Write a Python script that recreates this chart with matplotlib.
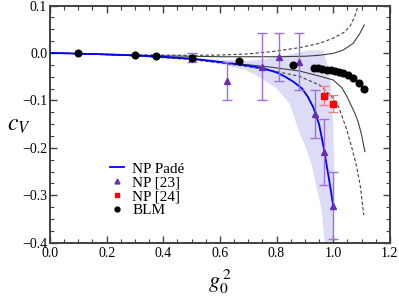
import matplotlib
matplotlib.use("Agg")
import matplotlib.pyplot as plt
from matplotlib.ticker import MultipleLocator
from matplotlib.lines import Line2D
import numpy as np

plt.rcParams["font.family"] = ["Liberation Serif", "DejaVu Serif"]
plt.rcParams["mathtext.fontset"] = "stix"

# NP Pade curve
pade_x = [0.0, 0.1, 0.2, 0.3, 0.4, 0.5, 0.6, 0.7, 0.75, 0.8, 0.83, 0.86, 0.89, 0.91,
          0.93, 0.95, 0.965, 0.975, 0.985, 0.993, 1.0]
pade_y = [0.0, -0.0015, -0.003, -0.005, -0.008, -0.012, -0.019, -0.027, -0.032, -0.041,
          -0.05, -0.061, -0.075, -0.092, -0.115, -0.15, -0.195, -0.23, -0.265, -0.295, -0.322]

# uncertainty band (outline)
band_x = [0.5, 0.6, 0.7, 0.76, 0.82, 0.87, 0.92, 0.965, 0.98, 0.992, 1.0, 1.004, 1.003, 1.0,
          0.97, 0.959, 0.94, 0.924, 0.9, 0.882, 0.865, 0.847, 0.8, 0.75, 0.7, 0.6, 0.5]
band_y = [-0.01, -0.014, -0.017, -0.013, -0.006, 0.0, 0.006, 0.005, -0.025, -0.07, -0.15, -0.25, -0.35, -0.4,
          -0.4, -0.331, -0.28, -0.235, -0.195, -0.17, -0.14, -0.108, -0.075, -0.055, -0.038, -0.023, -0.013]

# NP [23]
np23_x = [0.5, 0.625, 0.75, 0.81, 0.88, 0.937, 0.966, 0.998]
np23_y = [-0.01, -0.06, -0.029, -0.009, -0.019, -0.129, -0.209, -0.322]
np23_err = [0.009, 0.04, 0.07, 0.05, 0.06, 0.05, 0.07, 0.07]

# NP [24]
np24_x = [0.967, 0.999]
np24_y = [-0.09, -0.107]
np24_err = [0.02, 0.018]

# BLM
blm_x = [0.1, 0.3, 0.374, 0.5, 0.666, 0.857, 0.934, 0.948, 0.962, 0.977, 0.991, 1.005,
         1.019, 1.034, 1.052, 1.07, 1.091, 1.109]
blm_y = [-0.001, -0.005, -0.007, -0.01, -0.016, -0.025, -0.031, -0.032, -0.033, -0.035,
         -0.036, -0.0375, -0.04, -0.042, -0.046, -0.052, -0.063, -0.0755]

# black reference curves
up_solid_x = [0.0, 0.1, 0.3, 0.5, 0.6, 0.8, 0.9, 0.95, 1.0, 1.035, 1.07, 1.094, 1.11]
up_solid_y = [0.0, -0.0015, -0.005, -0.007, -0.008, -0.008, -0.007, -0.005, -0.001, 0.006, 0.02, 0.041, 0.059]
up_dash_x = [0.0, 0.1, 0.3, 0.5, 0.6, 0.7, 0.78, 0.88, 0.95, 1.0, 1.04, 1.06, 1.075, 1.083, 1.094]
up_dash_y = [0.0, -0.0015, -0.004, -0.005, -0.0045, -0.002, 0.0025, 0.011, 0.02, 0.031, 0.044, 0.057, 0.075, 0.09, 0.11]
lo_solid_x = [0.0, 0.1, 0.3, 0.5, 0.6, 0.7, 0.78, 0.88, 0.953, 1.0, 1.03, 1.047, 1.059, 1.075, 1.088, 1.1, 1.112]
lo_solid_y = [0.0, -0.0015, -0.006, -0.013, -0.019, -0.025, -0.03, -0.038, -0.049, -0.057, -0.073, -0.09, -0.105,
              -0.125, -0.145, -0.172, -0.208]
lo_dash_x = [0.0, 0.1, 0.3, 0.5, 0.6, 0.7, 0.78, 0.88, 0.953, 1.0, 1.02, 1.047, 1.065, 1.083, 1.097, 1.108]
lo_dash_y = [0.0, -0.0015, -0.006, -0.014, -0.021, -0.029, -0.037, -0.049, -0.068, -0.095, -0.115, -0.16,
             -0.198, -0.24, -0.285, -0.342]

fig = plt.figure(figsize=(3.99, 2.99), dpi=100)
ax = fig.add_axes([0.1253, 0.1883, 0.8517, 0.7933])

ax.fill(band_x, band_y, color="#dcdcf7", lw=0, zorder=1)
ax.plot(up_solid_x, up_solid_y, "-", color="#404040", lw=0.8, zorder=2)
ax.plot(lo_solid_x, lo_solid_y, "-", color="#404040", lw=0.8, zorder=2)
ax.plot(up_dash_x, up_dash_y, "--", color="#404040", lw=0.8, dashes=(3, 2), zorder=2)
ax.plot(lo_dash_x, lo_dash_y, "--", color="#404040", lw=0.8, dashes=(3, 2), zorder=2)
ax.plot(pade_x, pade_y, "-", color="#0000ff", lw=1.3, zorder=3)

ax.errorbar(np23_x, np23_y, yerr=np23_err, fmt="^", color="#6a2fb0", ms=5,
            ecolor="#a070d8", elinewidth=1.0, capsize=3.5, capthick=1.0, zorder=4)
ax.errorbar(np24_x, np24_y, yerr=np24_err, fmt="s", color="#ff0000", ms=4,
            ecolor="#f08080", elinewidth=1.0, capsize=3.5, capthick=1.0, zorder=4)
ax.plot(blm_x, blm_y, "o", color="black", ms=4.8, zorder=5)

ax.set_xlim(0, 1.2)
ax.set_ylim(-0.4, 0.1)
ax.xaxis.set_major_locator(MultipleLocator(0.2))
ax.xaxis.set_minor_locator(MultipleLocator(0.05))
ax.yaxis.set_major_locator(MultipleLocator(0.1))
ax.yaxis.set_minor_locator(MultipleLocator(0.025))
ax.xaxis.set_major_formatter(matplotlib.ticker.FormatStrFormatter("%.1f"))
ax.yaxis.set_major_formatter(matplotlib.ticker.FuncFormatter(lambda v, p: ("%.1f" % v).replace("-", "\u2212")))
ax.tick_params(which="both", direction="in", top=True, right=True, labelsize=10, color="#404040")
ax.tick_params(which="major", length=5, width=1.0, pad=2)
ax.tick_params(axis="x", which="major", pad=3)
ax.tick_params(which="minor", length=3, width=0.8)
for s in ax.spines.values():
    s.set_linewidth(1.4)
    s.set_color("#404040")

ax.set_xlabel(r"$g_0^{\,2}$", fontsize=16, labelpad=6)
ax.set_ylabel(r"$c_V$", fontsize=17, rotation=0)
ax.yaxis.set_label_coords(-0.09, 0.45)

handles = [
    Line2D([], [], color="#0000ff", lw=1.3),
    Line2D([], [], marker="^", ls="none", color="#6a2fb0", ms=3.5),
    Line2D([], [], marker="s", ls="none", color="#ff0000", ms=3),
    Line2D([], [], marker="o", ls="none", color="black", ms=3.5),
]
labels = ["NP Padé", "NP [23]", "NP [24]", "BLM"]
ax.legend(handles, labels, loc="upper left", bbox_to_anchor=(0.145, 0.385), frameon=False, fontsize=11,
          handlelength=0.95, handletextpad=0.5, labelspacing=0.0, borderpad=0.2)

fig.savefig("out.png", dpi=100)
